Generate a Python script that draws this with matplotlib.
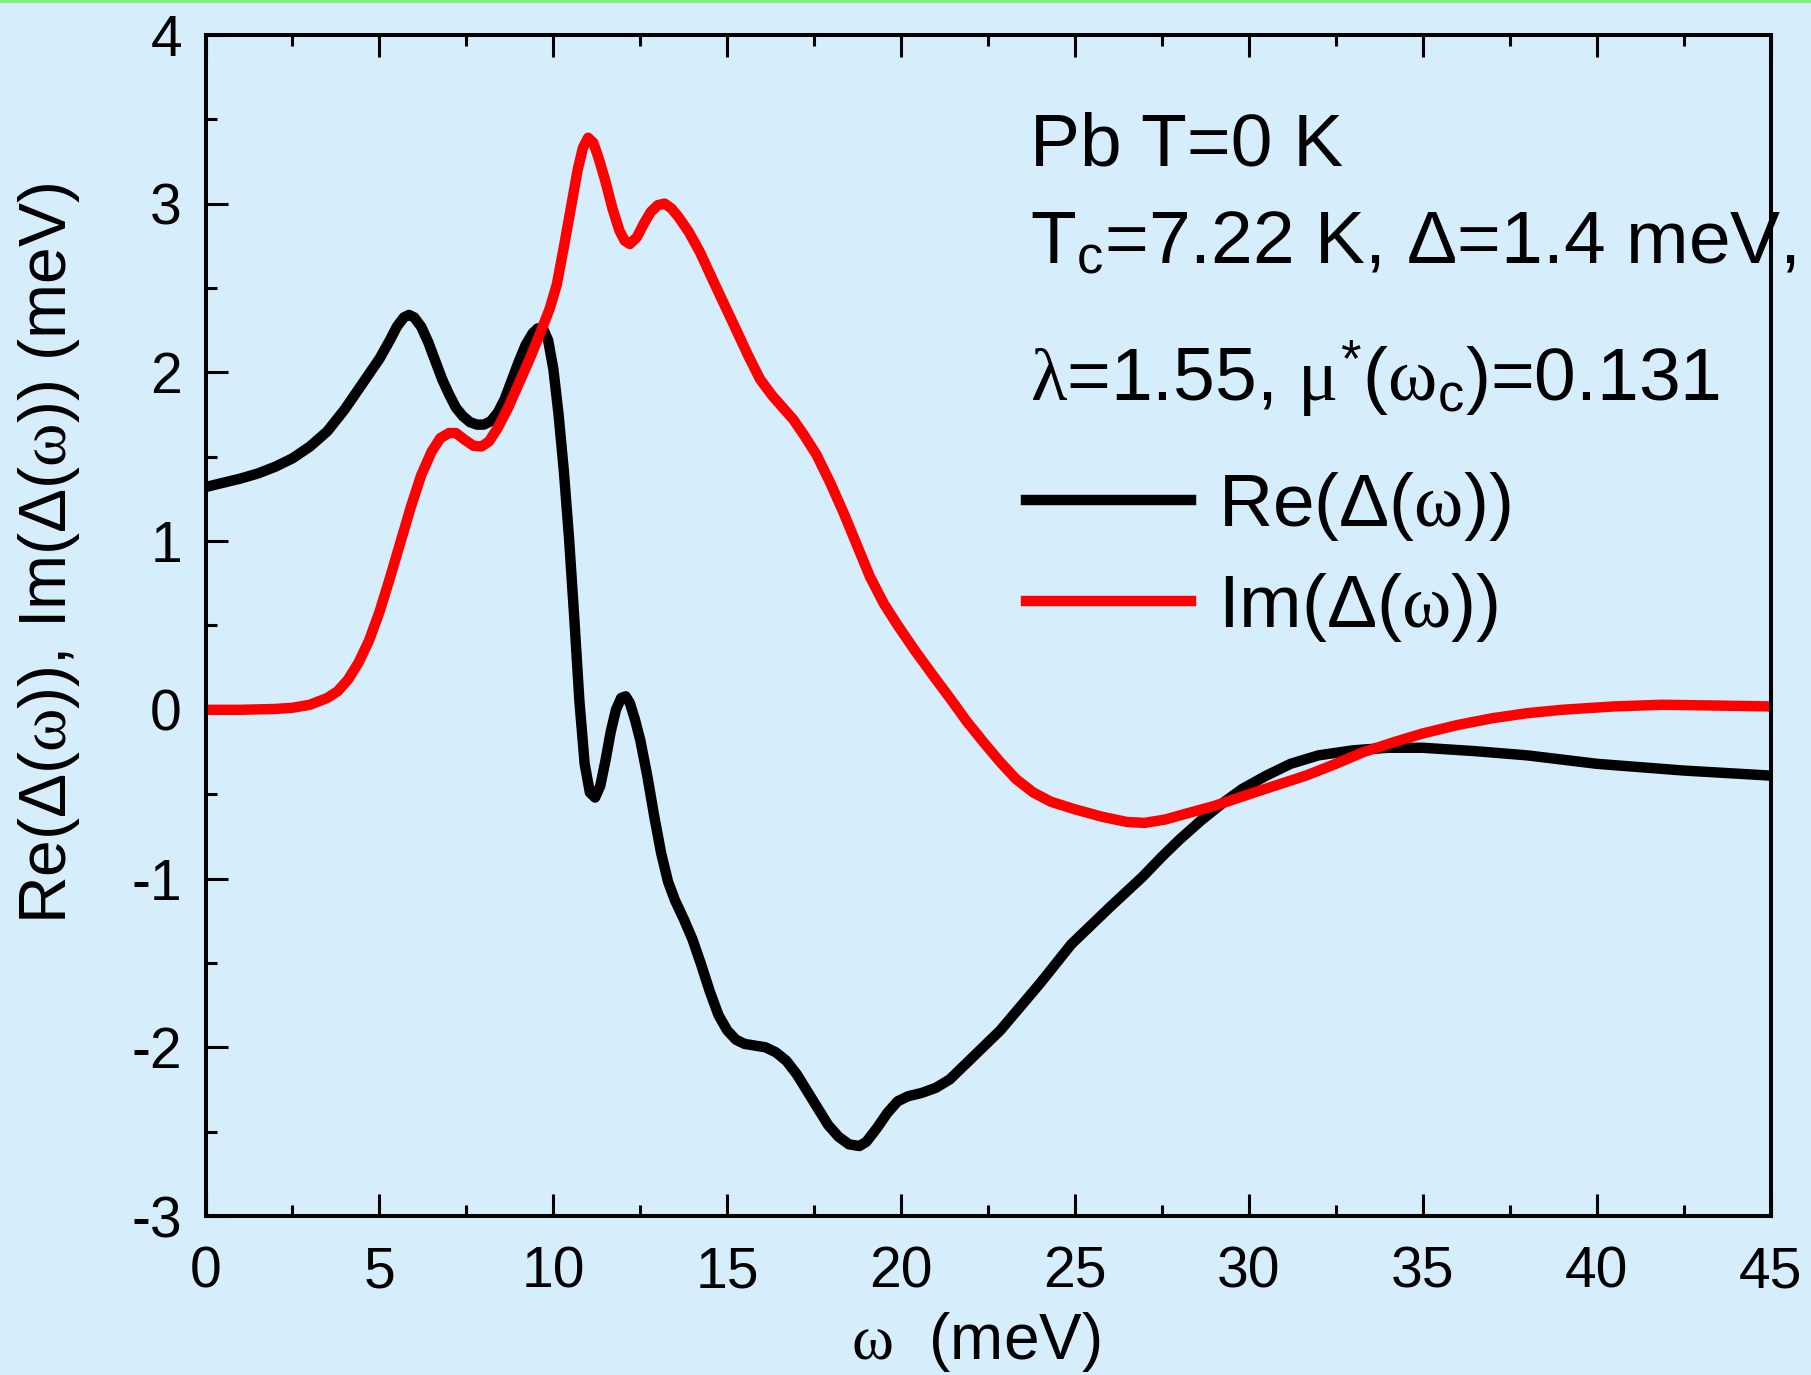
import matplotlib.pyplot as plt
from matplotlib.patches import Rectangle
from matplotlib.ticker import MultipleLocator

plt.rcParams['font.family'] = ['Liberation Sans', 'DejaVu Sans']
plt.rcParams['mathtext.fontset'] = 'custom'
plt.rcParams['mathtext.rm'] = 'Liberation Sans'
plt.rcParams['mathtext.it'] = 'Liberation Serif'
plt.rcParams['mathtext.bf'] = 'Liberation Sans:bold'
plt.rcParams['axes.unicode_minus'] = False

BG = '#d6edfc'

# Re(Delta(omega)) for Pb, meV
w_re = [0.0, 0.5, 1.0, 1.5, 2.0, 2.5, 3.0, 3.5, 4.0, 4.5, 5.0, 5.3, 5.5, 5.7, 5.85, 6.0,
        6.2, 6.4, 6.6, 6.8, 7.0, 7.2, 7.4, 7.6, 7.8, 8.0, 8.2, 8.4, 8.6, 8.8, 9.0, 9.2,
        9.4, 9.55, 9.7, 9.85, 10.0, 10.15, 10.3, 10.45, 10.6, 10.75, 10.9, 11.05, 11.2,
        11.35, 11.5, 11.65, 11.8, 11.95, 12.08, 12.2, 12.35, 12.5, 12.7, 12.9, 13.1,
        13.3, 13.5, 13.75, 14.0, 14.25, 14.5, 14.75, 15.0, 15.25, 15.5, 15.8, 16.1,
        16.4, 16.7, 17.0, 17.3, 17.6, 17.9, 18.2, 18.5, 18.8, 19.0, 19.3, 19.6, 19.9,
        20.2, 20.6, 21.0, 21.4, 22.0, 22.85, 24.0, 24.89, 26.0, 26.94, 27.5, 28.0, 28.6,
        29.2, 29.8, 30.5, 31.2, 32.0, 33.0, 34.0, 35.0, 36.5, 38.0, 40.0, 42.5, 45.0]
re_gap = [1.32, 1.345, 1.37, 1.40, 1.44, 1.49, 1.56, 1.65, 1.78, 1.93, 2.08, 2.19, 2.27,
          2.325, 2.34, 2.325, 2.27, 2.18, 2.07, 1.96, 1.87, 1.79, 1.74, 1.705, 1.69, 1.69,
          1.71, 1.76, 1.84, 1.95, 2.06, 2.16, 2.23, 2.26, 2.26, 2.19, 2.02, 1.75, 1.42,
          1.02, 0.55, 0.05, -0.32, -0.49, -0.52, -0.45, -0.30, -0.13, 0.00, 0.07, 0.08,
          0.04, -0.06, -0.18, -0.39, -0.63, -0.85, -1.02, -1.13, -1.24, -1.36, -1.51,
          -1.67, -1.81, -1.90, -1.955, -1.98, -1.99, -2.00, -2.03, -2.08, -2.16, -2.26,
          -2.36, -2.46, -2.53, -2.575, -2.585, -2.56, -2.48, -2.39, -2.32, -2.29, -2.27,
          -2.24, -2.19, -2.07, -1.90, -1.62, -1.39, -1.17, -0.99, -0.87, -0.77, -0.66,
          -0.56, -0.47, -0.39, -0.32, -0.27, -0.24, -0.225, -0.225, -0.245, -0.27, -0.32,
          -0.36, -0.39]

# Im(Delta(omega)) for Pb, meV
w_im = [0.0, 1.0, 2.0, 2.5, 3.0, 3.5, 3.8, 4.1, 4.4, 4.7, 5.0, 5.3, 5.6, 5.9, 6.2, 6.5,
        6.75, 7.0, 7.2, 7.45, 7.7, 7.93, 8.15, 8.4, 8.7, 9.0, 9.3, 9.6, 9.9, 10.1, 10.3,
        10.5, 10.7, 10.85, 11.0, 11.15, 11.3, 11.5, 11.7, 11.9, 12.05, 12.2, 12.4, 12.6,
        12.8, 13.0, 13.2, 13.4, 13.6, 13.9, 14.22, 14.6, 15.17, 15.6, 15.94, 16.3, 16.6,
        16.9, 17.2, 17.57, 17.95, 18.34, 18.7, 19.1, 19.5, 19.87, 20.4, 20.93, 21.4,
        21.89, 22.4, 22.85, 23.3, 23.8, 24.31, 25.0, 25.8, 26.5, 27.0, 27.6, 28.2, 29.0,
        30.3, 31.64, 32.5, 33.3, 34.2, 35.0, 36.0, 37.0, 38.0, 39.0, 40.5, 41.9, 43.5,
        45.0]
im_gap = [0.0, 0.0, 0.005, 0.012, 0.03, 0.07, 0.11, 0.18, 0.28, 0.41, 0.58, 0.78, 0.99,
          1.20, 1.39, 1.53, 1.61, 1.64, 1.64, 1.60, 1.565, 1.56, 1.59, 1.67, 1.79, 1.93,
          2.07, 2.22, 2.38, 2.52, 2.74, 2.97, 3.20, 3.33, 3.39, 3.36, 3.27, 3.13, 2.97,
          2.84, 2.78, 2.76, 2.80, 2.88, 2.95, 2.99, 3.00, 2.97, 2.92, 2.83, 2.71, 2.54,
          2.29, 2.10, 1.96, 1.86, 1.79, 1.72, 1.63, 1.51, 1.35, 1.17, 0.99, 0.79, 0.63,
          0.51, 0.35, 0.20, 0.07, -0.07, -0.20, -0.31, -0.41, -0.49, -0.545, -0.59,
          -0.635, -0.665, -0.67, -0.65, -0.615, -0.57, -0.48, -0.39, -0.32, -0.25, -0.19,
          -0.14, -0.09, -0.05, -0.02, 0.0, 0.02, 0.03, 0.025, 0.02]

fig = plt.figure(figsize=(18.11, 13.75), dpi=100, facecolor=BG)
ax = fig.add_axes([0.1135, 0.1156, 0.8642, 0.8591])
ax.set_facecolor(BG)

# thin green strip along the top edge
fig.patches.append(Rectangle((0, 1 - 3 / 1375), 1, 3 / 1375, transform=fig.transFigure,
                             facecolor='#7ff27f', edgecolor='none'))

ax.plot(w_re, re_gap, color='black', lw=7.5, solid_joinstyle='round',
        label='Re($\\Delta$($\\omega$))')
ax.plot(w_im, im_gap, color='#ff0000', lw=7.5, solid_joinstyle='round',
        label='Im($\\Delta$($\\omega$))')

ax.set_xlim(0, 45)
ax.set_ylim(-3, 4)
ax.xaxis.set_major_locator(MultipleLocator(5))
ax.xaxis.set_minor_locator(MultipleLocator(2.5))
ax.yaxis.set_major_locator(MultipleLocator(1))
ax.yaxis.set_minor_locator(MultipleLocator(0.5))

ax.tick_params(which='both', direction='in', top=True, right=False, width=2.2, colors='black')
ax.tick_params(which='major', length=15.6)
ax.tick_params(which='minor', length=7.7)
ax.tick_params(axis='x', pad=21, labelsize=41)
ax.tick_params(axis='y', pad=17, labelsize=41)
for sp in ax.spines.values():
    sp.set_linewidth(2.9)

ax.set_xlabel('$\\omega$  (meV)', fontsize=46, va='top')
ax.xaxis.set_label_coords(0.4923, -0.0796)
ax.set_ylabel('Re($\\Delta$($\\omega$)), Im($\\Delta$($\\omega$)) (meV)', fontsize=47.5)
ax.yaxis.set_label_coords(-0.079, 0.561)

ax.text(0.527, 0.8897, 'Pb T=0 K', transform=ax.transAxes, fontsize=54, va='baseline')
ax.text(0.527, 0.8069, 'T$_\\mathrm{c}$=7.22 K, $\\Delta$=1.4 meV,', transform=ax.transAxes,
        fontsize=54, va='baseline', clip_on=False)
ax.text(0.527, 0.6893, '$\\lambda$=1.55, $\\mu^{*}$($\\omega_\\mathrm{c}$)=0.131',
        transform=ax.transAxes, fontsize=54, va='baseline')

ax.legend(loc='upper left', bbox_to_anchor=(0.5243, 0.6313), frameon=False, fontsize=54,
          borderpad=0, borderaxespad=0, handlelength=2.2, handletextpad=0.36,
          labelspacing=0.37)

fig.savefig('out.png', dpi=100, facecolor=BG)
